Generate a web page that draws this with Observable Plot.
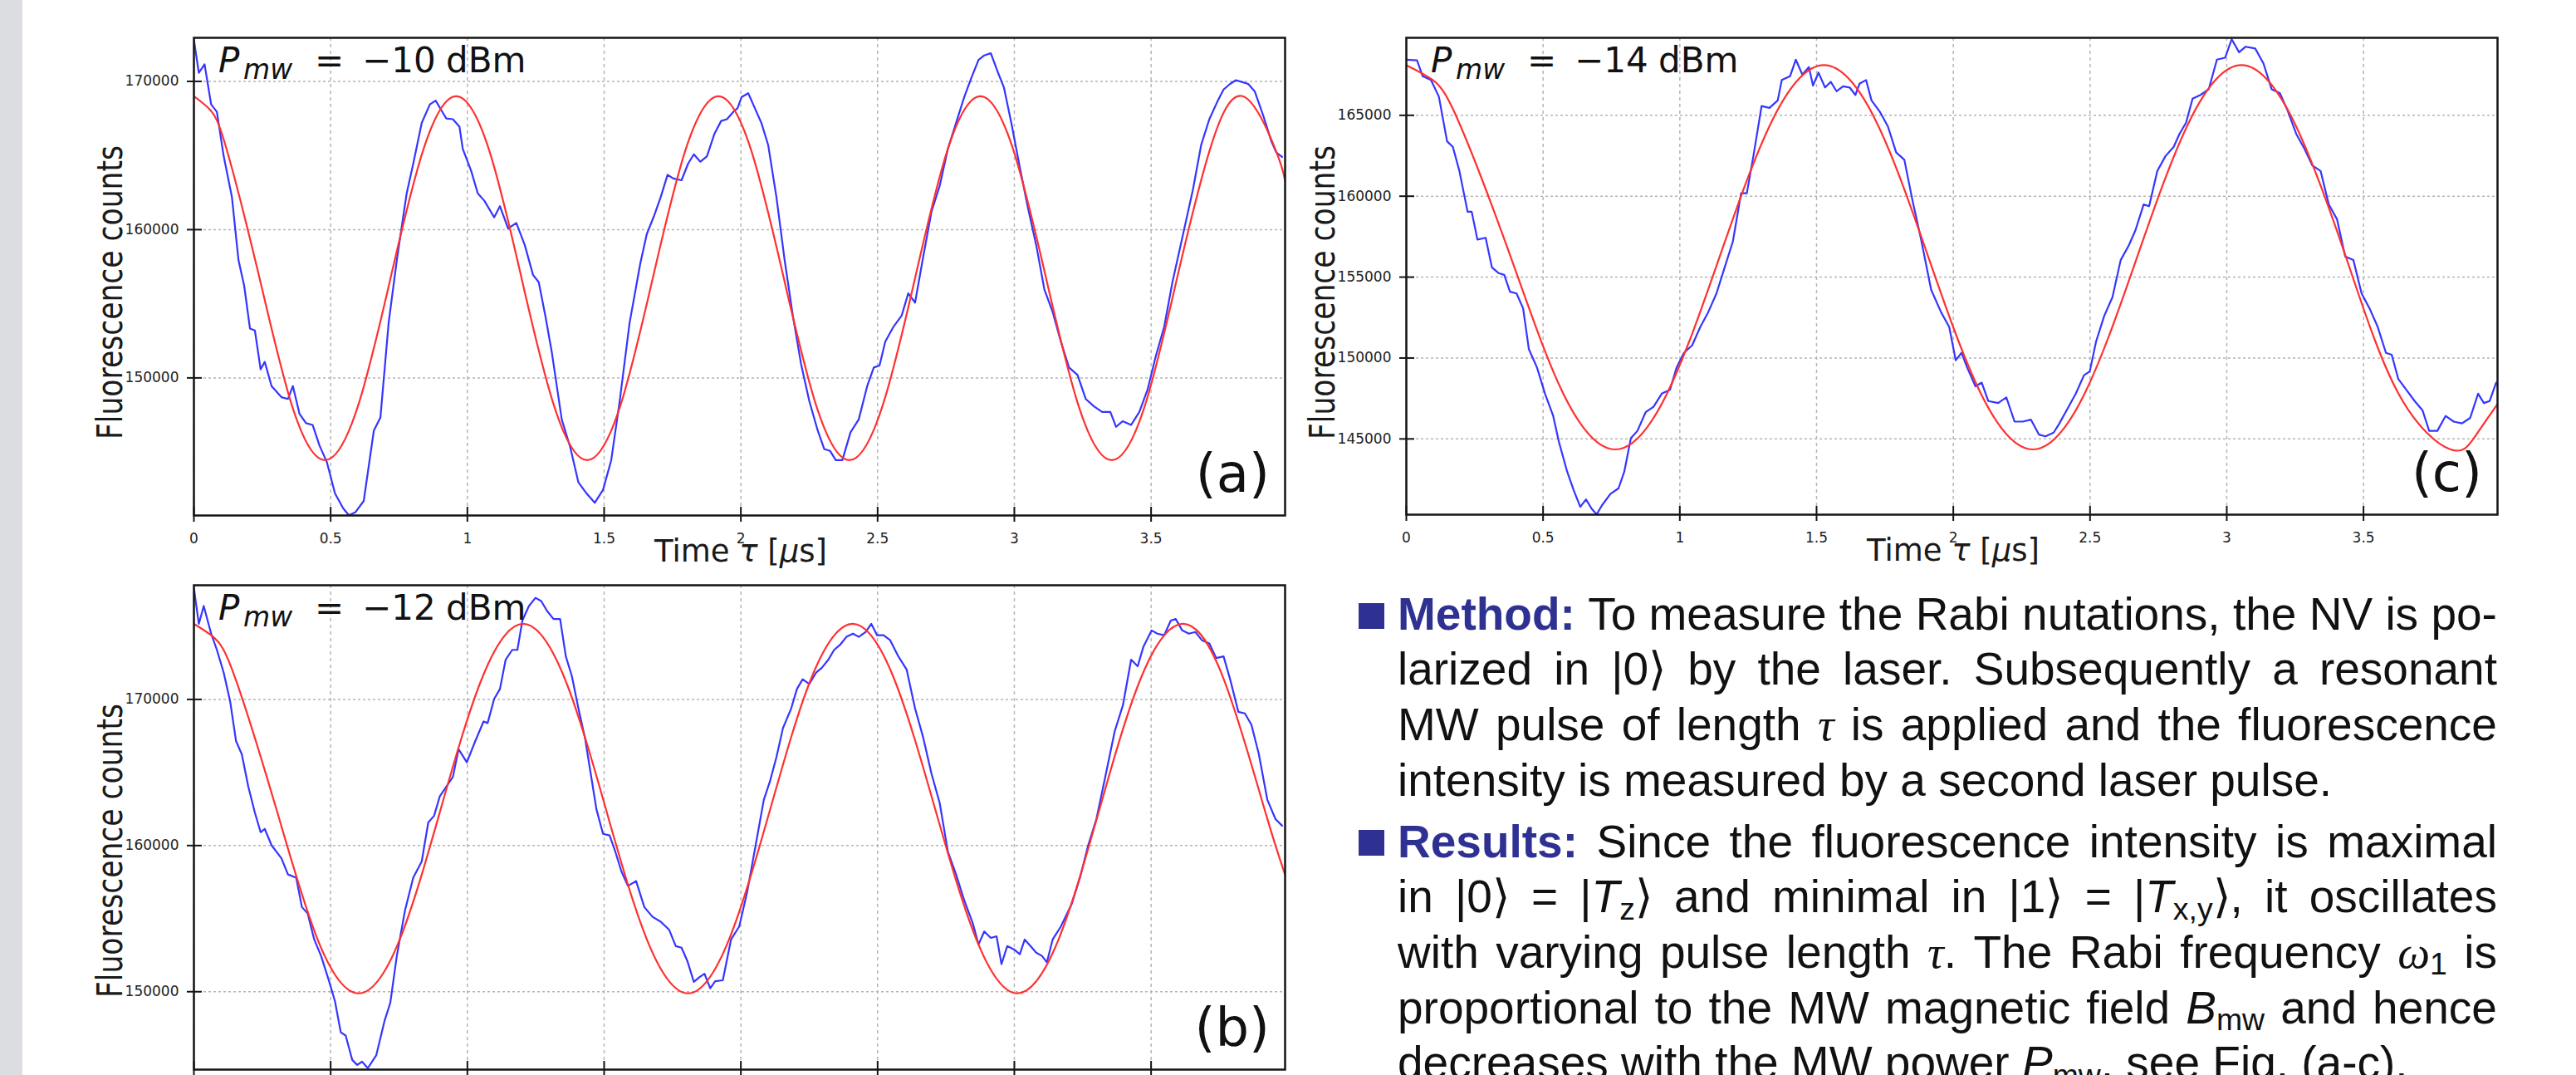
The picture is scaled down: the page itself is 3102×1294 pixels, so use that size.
<!DOCTYPE html>
<html><head><meta charset="utf-8">
<script src="https://cdn.jsdelivr.net/npm/d3@7"></script>
<script src="https://cdn.jsdelivr.net/npm/@observablehq/plot@0.6"></script>
<style>
html,body{margin:0;padding:0;background:#fff;width:3102px;height:1294px;overflow:hidden;}
body{position:relative;}
#strip{position:absolute;left:0;top:0;width:27px;height:1294px;background:#dcdde0;}
.panel{position:absolute;}
.panel svg{display:block;max-width:none;overflow:visible;background:transparent;}
.para{position:absolute;left:1683px;width:1324px;font-family:"Liberation Sans",Arial,Helvetica,sans-serif;font-size:55px;color:#111;}
.line{height:66.7px;line-height:66.7px;white-space:nowrap;width:1324px;}
.just{display:flex;justify-content:space-between;align-items:baseline;}
.kw{color:#2e3192;font-weight:bold;}
.gk{font-family:"Liberation Serif","DejaVu Serif",serif;font-style:italic;}
.it{font-style:italic;}
.sub{font-size:0.68em;position:relative;top:0.22em;}
.bullet{position:absolute;left:1636px;width:31px;height:31px;background:#2e3192;}
</style></head>
<body>
<div id="strip"></div>
<div id="pa" class="panel" style="left:0px;top:0px"></div>
<div id="pc" class="panel" style="left:1460px;top:0px"></div>
<div id="pb" class="panel" style="left:0px;top:659px"></div>

<div class="bullet" style="top:726px"></div>
<div class="para" style="top:705.6px">
  <div class="line just"><span class="kw">Method:</span><span>To</span><span>measure</span><span>the</span><span>Rabi</span><span>nutations,</span><span>the</span><span>NV</span><span>is</span><span>po-</span></div>
  <div class="line just"><span>larized</span><span>in</span><span>|0⟩</span><span>by</span><span>the</span><span>laser.</span><span>Subsequently</span><span>a</span><span>resonant</span></div>
  <div class="line just"><span>MW</span><span>pulse</span><span>of</span><span>length</span><span class="gk">τ</span><span>is</span><span>applied</span><span>and</span><span>the</span><span>fluorescence</span></div>
  <div class="line">intensity is measured by a second laser pulse.</div>
</div>
<div class="bullet" style="top:999px"></div>
<div class="para" style="top:979.6px">
  <div class="line just"><span class="kw">Results:</span><span>Since</span><span>the</span><span>fluorescence</span><span>intensity</span><span>is</span><span>maximal</span></div>
  <div class="line just"><span>in</span><span>|0⟩</span><span>=</span><span>|<span class="it">T</span><span class="sub">z</span>⟩</span><span>and</span><span>minimal</span><span>in</span><span>|1⟩</span><span>=</span><span>|<span class="it">T</span><span class="sub">x,y</span>⟩,</span><span>it</span><span>oscillates</span></div>
  <div class="line just"><span>with</span><span>varying</span><span>pulse</span><span>length</span><span><span class="gk">τ</span>.</span><span>The</span><span>Rabi</span><span>frequency</span><span><span class="gk">ω</span><span class="sub">1</span></span><span>is</span></div>
  <div class="line just"><span>proportional</span><span>to</span><span>the</span><span>MW</span><span>magnetic</span><span>field</span><span><span class="it">B</span><span class="sub">mw</span></span><span>and</span><span>hence</span></div>
  <div class="line">decreases with the MW power <span class="it">P</span><span class="sub">mw</span>, see Fig. (a-c).</div>
</div>

<script>
// ---------- data ----------
const xTicks = [0, 0.5, 1, 1.5, 2, 2.5, 3, 3.5];
const yTicksA = [150000, 160000, 170000];
const yTicksB = [150000, 160000, 170000];
const yTicksC = [145000, 150000, 155000, 160000, 165000];

// (a) P_mw = -10 dBm, measured counts
const tA = [0.000,0.018,0.039,0.063,0.084,0.109,0.139,0.163,0.184,0.205,0.223,0.244,0.259,0.284,0.320,0.344,0.362,0.386,0.410,0.434,0.459,0.486,0.516,0.546,0.567,0.591,0.621,0.658,0.682,0.712,0.742,0.778,0.802,0.833,0.863,0.884,0.908,0.923,0.947,0.971,0.983,1.014,1.038,1.062,1.098,1.119,1.149,1.179,1.210,1.240,1.261,1.285,1.309,1.345,1.376,1.406,1.436,1.466,1.496,1.526,1.557,1.593,1.632,1.656,1.683,1.707,1.732,1.753,1.783,1.807,1.828,1.852,1.876,1.903,1.928,1.949,1.973,1.988,2.003,2.027,2.051,2.075,2.100,2.130,2.160,2.190,2.220,2.250,2.281,2.305,2.326,2.347,2.371,2.401,2.431,2.462,2.486,2.507,2.528,2.558,2.588,2.612,2.637,2.667,2.697,2.727,2.757,2.787,2.817,2.842,2.869,2.890,2.914,2.938,2.962,2.989,3.020,3.050,3.080,3.110,3.140,3.170,3.200,3.231,3.261,3.291,3.321,3.351,3.372,3.396,3.427,3.457,3.487,3.517,3.548,3.578,3.614,3.653,3.683,3.713,3.744,3.765,3.789,3.810,3.834,3.855,3.879,3.910,3.940,3.958,3.979];
const countsA = [172800,170580,171150,168450,167950,164950,162200,157950,156200,153330,153200,150580,151080,149450,148700,148580,149450,147580,146950,146830,145450,144330,142200,141200,140730,140950,141700,146450,147330,153700,157950,162450,164450,167200,168450,168700,167950,167500,167450,166950,165450,163950,162450,161950,160830,161580,160080,160450,158950,156950,156450,154200,151700,147200,145330,142950,142200,141580,142450,144450,148450,153700,157700,159700,160950,162200,163700,163450,163330,164450,165080,164580,164950,166450,167330,167450,167950,168200,168950,169200,168200,167200,165700,162200,157950,154200,150950,148450,146450,145200,145080,144450,144450,146330,147200,149450,150700,150830,152450,153450,154200,155700,155080,158200,161200,162950,165450,167200,168950,170200,171450,171750,171900,170700,169580,167200,164200,161450,158950,155950,154450,152450,150700,150200,148580,148080,147700,147700,146700,147080,146830,147700,149200,151450,153450,156450,159450,162700,165700,167450,168700,169450,169830,170080,169950,169830,169330,167700,165950,165200,164900];
// (a) fitted curve, read at regular positions
const fitTA = [0,0.060,0.120,0.240,0.360,0.479,0.599,0.719,0.839,0.959,1.079,1.198,1.318,1.438,1.558,1.678,1.798,1.918,2.037,2.157,2.277,2.397,2.517,2.637,2.756,2.876,2.996,3.116,3.236,3.356,3.476,3.595,3.715,3.835,3.955,3.990];
const fitA = [169000,168070,165400,156730,148050,144450,148050,156730,165400,169000,165400,156730,148050,144450,148050,156730,165400,169000,165400,156730,148050,144450,148050,156730,165400,169000,165400,156730,148050,144450,148050,156730,165400,169000,165400,163300];

// (b) P_mw = -12 dBm
const tB = [0.000,0.018,0.036,0.063,0.084,0.109,0.133,0.154,0.175,0.199,0.223,0.244,0.259,0.284,0.320,0.344,0.374,0.395,0.416,0.440,0.465,0.495,0.516,0.537,0.555,0.579,0.597,0.615,0.636,0.667,0.697,0.718,0.742,0.772,0.802,0.833,0.857,0.878,0.899,0.923,0.947,0.968,0.998,1.029,1.059,1.074,1.098,1.119,1.140,1.164,1.183,1.201,1.225,1.249,1.270,1.291,1.315,1.339,1.360,1.382,1.406,1.430,1.451,1.472,1.496,1.520,1.541,1.563,1.587,1.617,1.647,1.677,1.707,1.738,1.762,1.783,1.804,1.828,1.849,1.867,1.888,1.906,1.934,1.964,1.994,2.024,2.054,2.084,2.106,2.130,2.154,2.184,2.205,2.226,2.250,2.275,2.296,2.320,2.341,2.362,2.386,2.410,2.431,2.456,2.477,2.498,2.522,2.546,2.576,2.606,2.637,2.667,2.697,2.727,2.757,2.787,2.817,2.848,2.869,2.890,2.914,2.935,2.953,2.974,2.998,3.020,3.038,3.059,3.080,3.101,3.119,3.140,3.170,3.210,3.240,3.270,3.300,3.330,3.367,3.397,3.427,3.451,3.472,3.502,3.523,3.548,3.572,3.590,3.614,3.638,3.662,3.686,3.713,3.738,3.765,3.789,3.819,3.843,3.867,3.894,3.925,3.955,3.979];
const countsB = [177620,175170,176390,174500,173390,171830,169820,167150,166260,164030,162250,160910,161140,160020,159130,158020,157800,155790,155350,153570,152450,150670,149330,147220,147000,145330,144990,145210,144770,145660,148000,149230,152450,155570,157800,158910,161580,162030,163360,164030,164700,166590,165700,167150,168490,168380,170040,170710,172720,173390,173390,175390,176390,176950,176730,176060,175500,175500,172940,171600,169380,167370,164920,162470,160800,160690,159580,158240,157240,157570,155790,155120,154790,154230,153120,153010,152120,150670,151000,151230,150230,150720,150780,153570,154460,156910,160020,163140,164370,166040,168040,169380,170710,171380,171050,171830,172160,172720,173390,173720,174280,174500,174280,174610,175170,174390,174390,174050,172940,172050,169380,167370,164920,162920,159580,158020,156240,154680,153230,154120,153680,153790,151890,153120,152900,152560,153570,153120,152670,152450,152010,153570,154460,156010,157800,160020,161810,164480,167820,169600,172720,172270,173610,174720,174500,174390,175390,175500,174720,174500,174610,174050,173830,172830,172940,171380,169150,169040,168260,166260,163140,161810,161360];
const fitTB = [0,0.075,0.151,0.301,0.452,0.602,0.753,0.903,1.054,1.204,1.355,1.506,1.656,1.807,1.957,2.108,2.258,2.409,2.559,2.710,2.861,3.011,3.162,3.312,3.463,3.614,3.764,3.914,3.990];
const fitB = [175170,174210,171470,162530,153590,149890,153590,162530,171470,175170,171470,162530,153590,149890,153590,162530,171470,175170,171470,162530,153590,149890,153590,162530,171470,175170,171470,162530,158000];

// (c) P_mw = -14 dBm
const tC = [0.000,0.039,0.060,0.090,0.119,0.149,0.170,0.194,0.224,0.239,0.260,0.290,0.313,0.337,0.358,0.379,0.403,0.427,0.448,0.478,0.507,0.537,0.558,0.588,0.612,0.636,0.657,0.678,0.696,0.716,0.746,0.776,0.797,0.821,0.845,0.875,0.904,0.934,0.964,0.988,1.015,1.045,1.075,1.104,1.134,1.164,1.194,1.224,1.245,1.269,1.299,1.328,1.358,1.373,1.403,1.424,1.448,1.472,1.487,1.507,1.531,1.552,1.573,1.597,1.621,1.642,1.657,1.681,1.701,1.731,1.761,1.791,1.821,1.851,1.881,1.919,1.955,1.985,2.009,2.030,2.051,2.081,2.104,2.128,2.164,2.194,2.224,2.254,2.284,2.313,2.337,2.367,2.388,2.418,2.448,2.478,2.499,2.522,2.552,2.582,2.612,2.642,2.666,2.696,2.716,2.746,2.776,2.806,2.827,2.851,2.875,2.904,2.934,2.964,2.994,3.018,3.045,3.069,3.104,3.134,3.164,3.194,3.224,3.254,3.284,3.313,3.343,3.373,3.403,3.433,3.463,3.493,3.522,3.552,3.582,3.603,3.627,3.657,3.687,3.716,3.740,3.770,3.800,3.830,3.860,3.890,3.919,3.940,3.961,3.985];
const countsC = [168440,168400,167410,167180,166150,163390,163050,161560,159040,159040,157320,157430,155600,155250,155140,154100,153990,153070,150550,149400,147800,146420,144810,142980,141830,140800,141260,140680,140340,140910,141600,141950,142980,145040,145500,146650,146990,147800,148030,149400,150320,150780,151920,152840,153990,155600,157200,160180,160180,162480,165570,165460,165920,167180,167410,168440,167520,167980,166840,167640,166720,167070,166490,166790,166720,166260,166950,167180,165920,165230,164310,162710,162250,159720,157430,154220,152840,151920,149860,150320,149400,148250,148480,147340,147220,147570,146070,146070,146190,145270,145160,145390,145960,146880,147800,148940,149170,151010,152610,153760,156050,156970,157890,159490,159380,161560,162480,163050,163850,164540,166030,166260,166610,168440,168560,169700,168900,169240,169130,168210,166610,166380,165230,163850,162940,161900,161560,159490,158580,156280,156050,153990,153070,151920,150320,150200,148710,148030,147340,146760,145500,145500,146420,146070,145960,146300,147800,147220,147340,148480];
const fitTC = [0,0.095,0.191,0.382,0.573,0.764,0.954,1.145,1.336,1.527,1.718,1.909,2.100,2.291,2.481,2.672,2.863,3.054,3.245,3.436,3.627,3.818,3.909,3.990];
const fitC = [168100,167200,164620,156230,147830,144350,147830,156230,164620,168100,164620,156230,147830,144350,147830,156230,164620,168100,164620,156230,147830,144350,145180,147150];

// ---------- drawing ----------
function panel(el, cfg) {
  const ml = 233, mt = 45, mr = cfg.mr, mb = 100;
  const W = cfg.w, H = mt + cfg.innerH + mb;
  const innerW = W - ml - mr, innerH = cfg.innerH;
  const blue = cfg.t.map((t, i) => ({t, v: cfg.v[i]}));
  const red = cfg.ft.map((t, i) => ({t, v: cfg.fv[i]}));
  const ink = "#151515";
  const svg = Plot.plot({
    width: W, height: H,
    marginLeft: ml, marginTop: mt, marginRight: mr, marginBottom: mb,
    style: {background: "transparent", fontFamily: "DejaVu Sans", fontSize: "17px", color: "#222", overflow: "visible"},
    x: {domain: [0, 3.99], label: null},
    y: {domain: cfg.yDomain, label: null},
    marks: [
      Plot.gridX(xTicks, {stroke: "#b5b5b5", strokeOpacity: 1, strokeWidth: 1.5, strokeDasharray: "4,4"}),
      Plot.gridY(cfg.yTicks, {stroke: "#b5b5b5", strokeOpacity: 1, strokeWidth: 1.5, strokeDasharray: "3,3"}),
      Plot.line(blue, {x: "t", y: "v", stroke: "#3535ff", strokeWidth: 2.2, clip: true}),
      Plot.line(red, {x: "t", y: "v", stroke: "#ff3030", strokeWidth: 2.2, curve: "natural", clip: true}),
      Plot.frame({stroke: ink, strokeWidth: 2.5}),
      Plot.tickX(xTicks, {x: d => d, insetTop: innerH - 10, insetBottom: -8, stroke: ink, strokeWidth: 2}),
      Plot.tickY(cfg.yTicks, {y: d => d, insetLeft: -8, insetRight: innerW - 10, stroke: ink, strokeWidth: 2}),
      Plot.axisX(xTicks, {tickSize: 0, tickPadding: 21, tickFormat: d => String(d), label: null}),
      Plot.axisY(cfg.yTicks, {tickSize: 0, tickPadding: 18, tickFormat: d => String(d), label: null})
    ]
  });
  el.appendChild(svg);
  const s = d3.select(svg);
  const L = ml, T = mt, R = W - mr, B = mt + innerH;
  // P_mw annotation
  const p = s.append("text").attr("font-family", "DejaVu Sans").attr("font-size", 42).attr("fill", "#111")
    .attr("text-anchor", "start");
  p.append("tspan").attr("x", L + 30).attr("y", T + 42).attr("font-style", "italic").text("P");
  p.append("tspan").attr("x", L + 60).attr("y", T + 50).attr("font-style", "italic").attr("font-size", 33).text("mw");
  p.append("tspan").attr("x", L + 146).attr("y", T + 42).text("=");
  p.append("tspan").attr("x", L + 203).attr("y", T + 42).text(cfg.power);
  p.append("tspan").attr("x", L + 304).attr("y", T + 42).text("dBm");
  // panel letter
  s.append("text").attr("font-family", "DejaVu Sans").attr("font-size", 64).attr("fill", "#111")
    .attr("text-anchor", "end").attr("x", R - 18).attr("y", B - 28).text(cfg.letter);
  // x label
  const xl = s.append("text").attr("font-family", "DejaVu Sans").attr("font-size", 37).attr("fill", "#1a1a1a")
    .attr("text-anchor", "middle").attr("x", (L + R) / 2 + 2).attr("y", B + 56);
  xl.append("tspan").text("Time ");
  xl.append("tspan").attr("font-style", "italic").text("τ");
  xl.append("tspan").text(" [");
  xl.append("tspan").attr("font-style", "italic").text("μ");
  xl.append("tspan").text("s]");
  // y label
  s.append("text").attr("font-family", "DejaVu Sans").attr("font-size", 42).attr("fill", "#1a1a1a")
    .attr("text-anchor", "middle").attr("textLength", 354).attr("lengthAdjust", "spacingAndGlyphs")
    .attr("transform", `translate(${L - 86},${T + cfg.ylabOff}) rotate(-90)`)
    .text("Fluorescence counts");
}

panel(document.getElementById("pa"), {w: 1580, mr: 33, innerH: 575, t: tA, v: countsA, ft: fitTA, fv: fitA,
  yDomain: [140720, 172940], yTicks: yTicksA, power: "−10", letter: "(a)", ylabOff: 307});
panel(document.getElementById("pc"), {w: 1600, mr: 53, innerH: 574, t: tC, v: countsC, ft: fitTC, fv: fitC,
  yDomain: [140320, 169790], yTicks: yTicksC, power: "−14", letter: "(c)", ylabOff: 307});
panel(document.getElementById("pb"), {w: 1580, mr: 33, innerH: 583, t: tB, v: countsB, ft: fitTB, fv: fitB,
  yDomain: [144670, 177810], yTicks: yTicksB, power: "−12", letter: "(b)", ylabOff: 320});
</script>
</body></html>
